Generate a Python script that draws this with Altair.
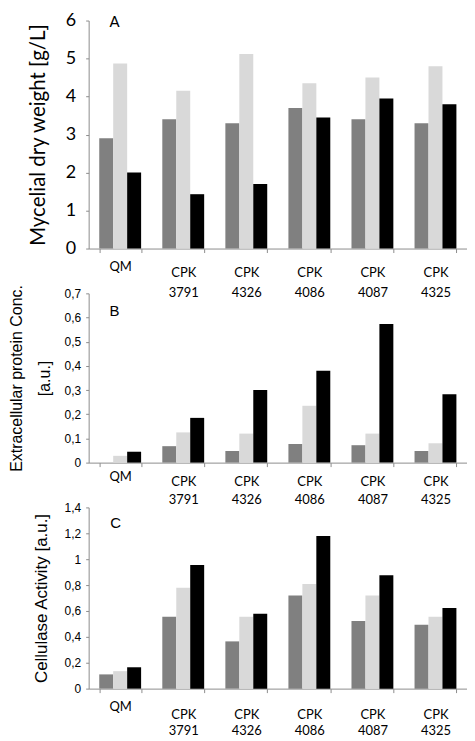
import altair as alt
import pandas as pd

strains = ["QM", "CPK 3791", "CPK 4326", "CPK 4086", "CPK 4087", "CPK 4325"]
series = ["Series 1", "Series 2", "Series 3"]
bar_colors = ["#808080", "#d9d9d9", "#000000"]

dry_weight_s1 = [2.9, 3.4, 3.3, 3.7, 3.4, 3.3]
dry_weight_s2 = [4.87, 4.15, 5.12, 4.35, 4.5, 4.8]
dry_weight_s3 = [2.0, 1.43, 1.7, 3.45, 3.95, 3.8]

protein_s1 = [0.0, 0.068, 0.048, 0.077, 0.072, 0.048]
protein_s2 = [0.028, 0.125, 0.12, 0.235, 0.12, 0.08]
protein_s3 = [0.045, 0.185, 0.30, 0.38, 0.573, 0.283]

cellulase_s1 = [0.11, 0.555, 0.365, 0.72, 0.522, 0.493]
cellulase_s2 = [0.135, 0.78, 0.555, 0.808, 0.72, 0.555]
cellulase_s3 = [0.165, 0.955, 0.578, 1.18, 0.875, 0.622]

ticks_a = [0, 1, 2, 3, 4, 5, 6]
ticks_b = [0, 0.1, 0.2, 0.3, 0.4, 0.5, 0.6, 0.7]
ticks_c = [0, 0.2, 0.4, 0.6, 0.8, 1, 1.2, 1.4]

AXIS_GRAY = "#8c8c8c"


def make_df(vals):
    rows = []
    for i, s in enumerate(strains):
        for j, ser in enumerate(series):
            rows.append({"strain": s, "series": ser, "value": vals[j][i]})
    return pd.DataFrame(rows)


def panel(vals, ytitle, ymax, yticks, letter, h, cfg):
    df = make_df(vals)
    bars = alt.Chart(df).mark_bar().encode(
        x=alt.X(
            "strain:N", sort=strains, title=None,
            scale=alt.Scale(paddingInner=0.336, paddingOuter=0.168),
            axis=alt.Axis(
                labelAngle=0, labelExpr="split(datum.label, ' ')", tickBand="extent",
                tickSize=4, labelFont="Lato", labelFontSize=13,
                labelLineHeight=cfg["lh"], labelOverlap=False,
                labelPadding=alt.ExprRef(expr=f"datum.value == 'QM' ? {cfg['qm']} : {cfg['cpk']}"),
                labelColor="#000000", domainColor=AXIS_GRAY, tickColor=AXIS_GRAY, grid=False,
            ),
        ),
        xOffset=alt.XOffset("series:N", sort=series,
                            scale=alt.Scale(paddingInner=0, paddingOuter=0)),
        y=alt.Y(
            "value:Q", scale=alt.Scale(domain=[0, ymax], nice=False, zero=True),
            axis=alt.Axis(
                values=yticks, title=ytitle,
                labelExpr="replace(format(datum.value, '~g'), '.', ',')",
                labelFont=cfg["yfont"], labelFontSize=cfg["ylabsize"],
                labelPadding=cfg["ylabpad"], tickSize=3,
                titleFont=cfg["yfont"], titleFontSize=cfg["ytitlesize"],
                titleFontWeight="normal", titlePadding=cfg["ytitlepad"],
                titleLineHeight=cfg.get("tlh", 20), titleColor="#000000",
                labelColor="#000000", domainColor=AXIS_GRAY, tickColor=AXIS_GRAY, grid=False,
            ),
        ),
        color=alt.Color("series:N", sort=series,
                        scale=alt.Scale(domain=series, range=bar_colors), legend=None),
    )
    txt = alt.Chart(pd.DataFrame({"label": [letter]})).mark_text(
        font=cfg["yfont"], fontSize=15, align="center", baseline="middle", color="#000000"
    ).encode(text="label:N", x=alt.value(cfg["lx"]), y=alt.value(cfg["ly"]))
    return alt.layer(bars, txt).properties(width=380, height=h)


pa = panel([dry_weight_s1, dry_weight_s2, dry_weight_s3], "Mycelial dry weight [g/L]", 6, ticks_a, "A", 229,
           dict(lh=20, qm=8, cpk=14, yfont="Lato", ylabsize=18, ylabpad=10, ytitlesize=20.5,
                ytitlepad=17, lx=26, ly=1))
pb = panel([protein_s1, protein_s2, protein_s3], ["Extracellular protein Conc.", "[a.u.]"], 0.7, ticks_b, "B", 170,
           dict(lh=18, qm=4, cpk=9, yfont="Liberation Sans", ylabsize=12, ylabpad=5, ytitlesize=16,
                ytitlepad=12, tlh=28, lx=26, ly=18))
pc = panel([cellulase_s1, cellulase_s2, cellulase_s3], "Cellulase Activity [a.u.]", 1.4, ticks_c, "C", 182,
           dict(lh=16, qm=8, cpk=16, yfont="Liberation Sans", ylabsize=12, ylabpad=5, ytitlesize=17,
                ytitlepad=14, lx=27, ly=16))

chart = alt.vconcat(pa, pb, pc, spacing=45, bounds="flush").properties(
    padding={"left": 0, "top": 2, "right": 0, "bottom": 0}
).configure_view(strokeOpacity=0)

chart.save("out.html", embed_options={"renderer": "svg", "actions": False})
